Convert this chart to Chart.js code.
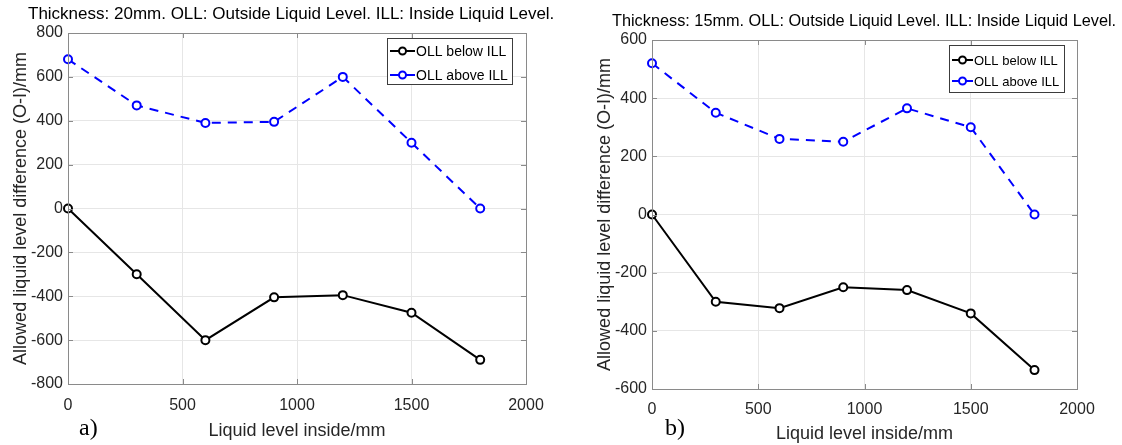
<!DOCTYPE html>
<html>
<head>
<meta charset="utf-8">
<script src="https://cdn.jsdelivr.net/npm/chart.js@4.4.1/dist/chart.umd.min.js"></script>
<style>
  html, body { margin: 0; padding: 0; background: #fff; }
  #wrap { position: relative; width: 1122px; height: 445px; overflow: hidden; }
  canvas { position: absolute; top: 0; }
  #chartA { left: 0; }
  #chartB { left: 580px; }
</style>
</head>
<body>
<div id="wrap">
  <canvas id="chartA" width="560" height="445"></canvas>
  <canvas id="chartB" width="542" height="445"></canvas>
</div>
<script>
'use strict'

// liquid level inside (mm)
var levels = [0, 300, 600, 900, 1200, 1500, 1800];

// a) thickness 20mm
var below20 = [0, -300, -600, -405, -395, -475, -690];
var above20 = [680, 470, 390, 395, 600, 300, 0];

// b) thickness 15mm
var below15 = [0, -300, -322, -250, -260, -340, -535];
var above15 = [520, 350, 260, 250, 365, 300, 0];

var seriesNames = ['OLL below ILL', 'OLL above ILL'];
var xTitle = 'Liquid level inside/mm';
var yTitle = 'Allowed liquid level difference (O-I)/mm';
var titleA = 'Thickness: 20mm. OLL: Outside Liquid Level. ILL: Inside Liquid Level.';
var titleB = 'Thickness: 15mm. OLL: Outside Liquid Level. ILL: Inside Liquid Level.';

var FONT = '"Liberation Sans", Arial, sans-serif';
var TXT = '#262626';

function pts(vals) {
  return vals.map(function (v, i) { return { x: levels[i], y: v }; });
}

// frame, inward ticks, legend box, heading and panel letter
var decor = {
  id: 'decor',
  afterDraw: function (chart, args, o) {
    var ctx = chart.ctx, a = chart.chartArea;
    var xs = chart.scales.x, ys = chart.scales.y;
    ctx.save();
    ctx.strokeStyle = '#8a8a8a';
    ctx.lineWidth = 1;
    ctx.strokeRect(a.left + 0.5, a.top + 0.5, a.width, a.height);
    ctx.beginPath();
    xs.ticks.forEach(function (t) {
      var p = Math.round(xs.getPixelForValue(t.value)) + 0.5;
      ctx.moveTo(p, a.bottom); ctx.lineTo(p, a.bottom - 5);
      ctx.moveTo(p, a.top); ctx.lineTo(p, a.top + 5);
    });
    ys.ticks.forEach(function (t) {
      var p = Math.round(ys.getPixelForValue(t.value)) + 0.5;
      ctx.moveTo(a.left, p); ctx.lineTo(a.left + 5, p);
      ctx.moveTo(a.right, p); ctx.lineTo(a.right - 5, p);
    });
    ctx.stroke();

    // legend
    var L = o.legend;
    ctx.fillStyle = '#fff';
    ctx.fillRect(L.x, L.y, L.w, L.h);
    ctx.strokeStyle = '#3c3c3c';
    ctx.strokeRect(L.x + 0.5, L.y + 0.5, L.w, L.h);
    chart.data.datasets.forEach(function (ds, i) {
      var yy = L.y + L.row + i * L.gap;
      ctx.strokeStyle = ds.borderColor;
      ctx.lineWidth = 2;
      ctx.setLineDash([]);
      ctx.beginPath();
      ctx.moveTo(L.x + 3, yy); ctx.lineTo(L.x + L.line, yy);
      ctx.stroke();
      ctx.fillStyle = '#fff';
      ctx.beginPath();
      ctx.arc(L.x + 3 + (L.line - 3) / 2, yy, 3.5, 0, Math.PI * 2);
      ctx.fill(); ctx.stroke();
      ctx.fillStyle = '#000';
      ctx.font = L.size + 'px ' + FONT;
      ctx.textAlign = 'left';
      ctx.textBaseline = 'middle';
      ctx.fillText(ds.label, L.x + L.line + 1, yy + 1);
    });

    // heading
    ctx.fillStyle = '#000';
    ctx.font = o.titleSize + 'px ' + FONT;
    ctx.textAlign = 'left';
    ctx.textBaseline = 'middle';
    ctx.fillText(o.title, o.titleX, o.titleY);

    // panel letter
    ctx.font = '24px "Liberation Serif", "Times New Roman", serif';
    ctx.fillText(o.panel, o.panelX, o.panelY);
    ctx.restore();
  }
};

function makeChart(id, below, above, ymin, ymax, lay) {
  return new Chart(document.getElementById(id), {
    type: 'line',
    data: {
      datasets: [{
        label: seriesNames[0],
        data: pts(below),
        borderColor: '#000000',
        borderWidth: 2,
        pointRadius: 4,
        pointBorderWidth: 2,
        pointBackgroundColor: '#ffffff',
        pointBorderColor: '#000000',
        tension: 0,
        clip: false
      }, {
        label: seriesNames[1],
        data: pts(above),
        borderColor: '#0000ff',
        borderWidth: 2,
        borderDash: [9, 7],
        pointRadius: 4,
        pointBorderWidth: 2,
        pointBackgroundColor: '#ffffff',
        pointBorderColor: '#0000ff',
        tension: 0,
        clip: false
      }]
    },
    options: {
      responsive: false,
      animation: false,
      devicePixelRatio: 1,
      layout: { padding: { left: 0, right: lay.padRight, top: lay.padTop, bottom: 0 } },
      scales: {
        x: {
          type: 'linear',
          min: 0, max: 2000,
          ticks: {
            stepSize: 500, color: TXT, font: { family: FONT, size: 16 }, padding: lay.xTickPad, maxRotation: 0,
            callback: function (v) { return String(v); }
          },
          grid: { color: '#e6e6e6', drawTicks: false },
          border: { display: false },
          title: { display: true, text: xTitle, color: TXT, font: { family: FONT, size: 18 }, padding: { top: 0, bottom: lay.xTitlePad } },
          afterFit: function (s) { s.height = lay.xHeight; }
        },
        y: {
          min: ymin, max: ymax,
          ticks: { stepSize: 200, color: TXT, font: { family: FONT, size: 16 }, padding: 5 },
          grid: { color: '#e6e6e6', drawTicks: false },
          border: { display: false },
          title: { display: true, text: yTitle, color: TXT, font: { family: FONT, size: 18 }, padding: { top: lay.yTitlePad, bottom: 0 } },
          afterFit: function (s) { s.width = lay.yWidth; }
        }
      },
      plugins: {
        legend: { display: false },
        tooltip: { enabled: false },
        decor: lay.decor
      }
    },
    plugins: [decor]
  });
}

makeChart('chartA', below20, above20, -800, 800, {
  padRight: 34, padTop: 33, yWidth: 68, xHeight: 61, xTickPad: 12, xTitlePad: 3, yTitlePad: 10,
  decor: {
    legend: { x: 387, y: 38, w: 125, h: 46, row: 13, gap: 24, line: 28, size: 14 },
    title: titleA, titleSize: 17, titleX: 28, titleY: 14,
    panel: 'a)', panelX: 79, panelY: 429
  }
});

makeChart('chartB', below15, above15, -600, 600, {
  padRight: 45, padTop: 40, yWidth: 72, xHeight: 56, xTickPad: 11, xTitlePad: 0, yTitlePad: 14,
  decor: {
    legend: { x: 369, y: 45, w: 115, h: 47, row: 15, gap: 21, line: 24, size: 13 },
    title: titleB, titleSize: 16.3, titleX: 32, titleY: 22,
    panel: 'b)', panelX: 85, panelY: 429
  }
});
</script>
</body>
</html>
